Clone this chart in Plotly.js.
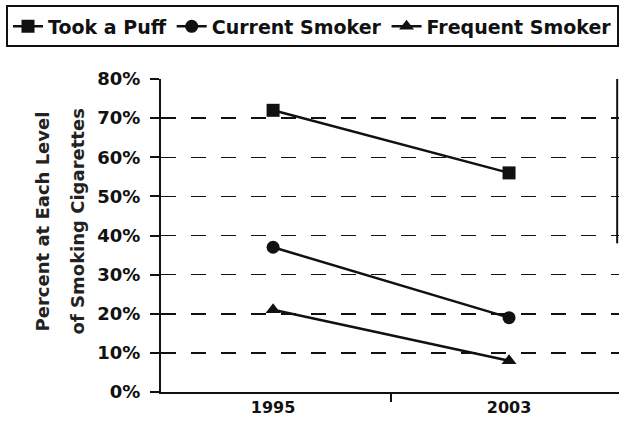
<!DOCTYPE html>
<html><head><meta charset="utf-8">
<script src="https://cdn.plot.ly/plotly-3.0.1.min.js"></script>
<style>html,body{margin:0;padding:0;background:#fff}#c{width:619px;height:437px}</style>
</head><body><div id="c"></div>
<script>
const years = ["1995", "2003"];
const tookPuff = [72, 56];
const currentSmoker = [37, 19];
const frequentSmoker = [21, 8];
const yTicks = [0, 10, 20, 30, 40, 50, 60, 70, 80];
const yTickText = ["0%", "10%", "20%", "30%", "40%", "50%", "60%", "70%", "80%"];
const yTitleLines = ["Percent at Each Level", "of Smoking Cigarettes"];

const fam = "DejaVu Sans, Liberation Sans, Arial, sans-serif";
const mk = (name, y, sym) => ({
  x: years, y: y, name: name, type: "scatter", mode: "lines+markers",
  line: {color: "#111", width: 2.5},
  marker: {symbol: sym, size: 13, color: "#111"}
});
const data = [
  mk("<b>Took a Puff</b>", tookPuff, "square"),
  mk("<b>Current Smoker</b>", currentSmoker, "circle"),
  mk("<b>Frequent Smoker</b>", frequentSmoker, "triangle-up")
];
const L = 161, PW = 458;
const layout = {
  width: 619, height: 437,
  margin: {l: L, r: 0, t: 79, b: 45},
  paper_bgcolor: "#fff", plot_bgcolor: "#fff",
  font: {family: fam, size: 16, color: "#111"},
  showlegend: true,
  legend: {orientation: "h", x: (10 - L) / PW, xanchor: "left", y: 1.235, yanchor: "top",
    bordercolor: "#111", borderwidth: 2, font: {family: fam, size: 19, color: "#111"},
    itemwidth: 30, tracegroupgap: 0},
  xaxis: {type: "category", range: [-0.475, 1.466], showgrid: false, zeroline: false,
    showline: true, linecolor: "#111", linewidth: 2,
    ticks: "outside", tickson: "boundaries", ticklen: 8, tickcolor: "#111", tickwidth: 2,
    tickfont: {family: fam, size: 16, color: "#111"},
    ticktext: ["<b>1995</b>", "<b>2003</b>"], tickvals: years},
  yaxis: {range: [0, 80], tickvals: yTicks, ticktext: yTickText.map(t => "<b>" + t + "</b>"),
    showline: true, linecolor: "#111", linewidth: 2, zeroline: false,
    showgrid: true, gridcolor: "#111", gridwidth: 1.5, griddash: "longdash",
    ticks: "outside", ticklen: 9, tickcolor: "#111", tickwidth: 2, ticklabelstandoff: 6,
    tickfont: {family: fam, size: 18, color: "#111"}},
  annotations: yTitleLines.map((t, i) => ({
    text: "<b>" + t + "</b>", xref: "paper", yref: "paper",
    x: ([42, 77][i] - L) / PW, y: 0.545, xanchor: "center", yanchor: "middle",
    textangle: -90, showarrow: false, font: {family: fam, size: 18, color: "#222"}
  })),
  shapes: [{type: "line", xref: "paper", yref: "y", x0: 0.996, x1: 0.996, y0: 38, y1: 80,
    line: {color: "#111", width: 2}}]
};
Plotly.newPlot("c", data, layout, {displayModeBar: false, staticPlot: true});
</script></body></html>
